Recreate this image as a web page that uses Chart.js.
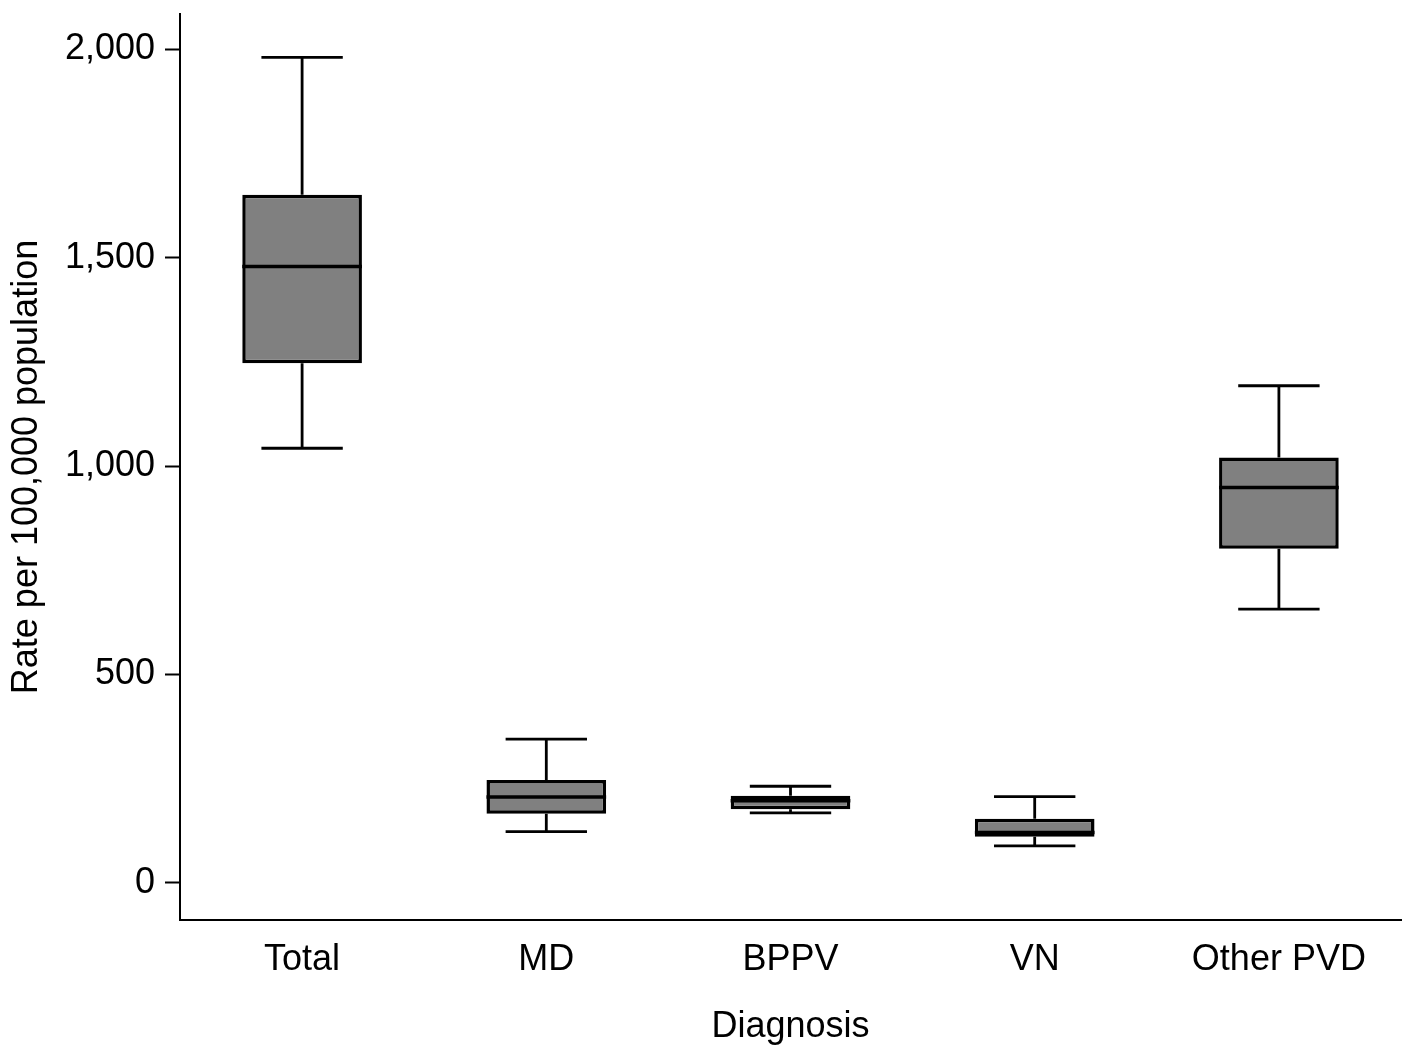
<!DOCTYPE html>
<html>
<head>
<meta charset="utf-8">
<script src="https://cdn.jsdelivr.net/npm/chart.js@4.4.1/dist/chart.umd.min.js"></script>
<style>
  html, body { margin: 0; padding: 0; background: #fff; }
  canvas { display: block; }
</style>
</head>
<body>
<canvas id="boxChart" width="1418" height="1057"></canvas>
<script>
// box plot values (rate per 100,000)
const categories = ['Total', 'MD', 'BPPV', 'VN', 'Other PVD'];
const lowerWhisker = [1043, 123, 168, 89, 657];
const q1 = [1247, 166, 177, 111, 802];
const median = [1479, 206, 197, 121, 949];
const q3 = [1651, 247, 209, 154, 1021];
const upperWhisker = [1981, 345, 232, 207, 1193];
const yTicks = [0, 500, 1000, 1500, 2000];

Chart.defaults.font.family = "'Liberation Sans', Arial, sans-serif";
Chart.defaults.font.size = 36;
Chart.defaults.color = '#000';

// whiskers + median line, drawn on top of the floating bars
const boxExtras = {
    id: 'boxExtras',
    afterDatasetsDraw(chart) {
        const ctx = chart.ctx;
        const x = chart.scales.x;
        const y = chart.scales.y;
        const bars = chart.getDatasetMeta(0).data;
        ctx.save();
        ctx.strokeStyle = '#000';
        ctx.lineCap = 'butt';
        categories.forEach((c, i) => {
            const cx = x.getPixelForValue(i);
            const half = bars[i].width / 2;
            const cap = half * 0.68;
            // median
            ctx.lineWidth = 3.5;
            ctx.beginPath();
            ctx.moveTo(cx - half, y.getPixelForValue(median[i]));
            ctx.lineTo(cx + half, y.getPixelForValue(median[i]));
            ctx.stroke();
            // whiskers
            ctx.lineWidth = 2.8;
            ctx.beginPath();
            ctx.moveTo(cx, y.getPixelForValue(q3[i]));
            ctx.lineTo(cx, y.getPixelForValue(upperWhisker[i]));
            ctx.moveTo(cx - cap, y.getPixelForValue(upperWhisker[i]));
            ctx.lineTo(cx + cap, y.getPixelForValue(upperWhisker[i]));
            ctx.moveTo(cx, y.getPixelForValue(q1[i]));
            ctx.lineTo(cx, y.getPixelForValue(lowerWhisker[i]));
            ctx.moveTo(cx - cap, y.getPixelForValue(lowerWhisker[i]));
            ctx.lineTo(cx + cap, y.getPixelForValue(lowerWhisker[i]));
            ctx.stroke();
        });
        ctx.restore();
    }
};

const canvas = document.getElementById('boxChart').getContext('2d');

new Chart(canvas, {
    type: 'bar',
    data: {
        labels: categories,
        datasets: [{
            data: categories.map((c, i) => [q1[i], q3[i]]),
            backgroundColor: '#808080',
            borderColor: '#000',
            borderWidth: 3.5,
            borderSkipped: false,
            barPercentage: 0.49,
            categoryPercentage: 1
        }]
    },
    options: {
        responsive: false,
        animation: false,
        devicePixelRatio: 1,
        layout: { padding: { top: 14, right: 17, left: 0, bottom: 0 } },
        plugins: {
            legend: { display: false },
            tooltip: { enabled: false }
        },
        scales: {
            x: {
                grid: { display: true, drawOnChartArea: false, drawTicks: false },
                border: { display: true, color: '#000', width: 2 },
                ticks: { padding: 18 },
                title: {
                    display: true,
                    text: 'Diagnosis',
                    padding: { top: 0, bottom: 8 }
                },
                afterFit(scale) {
                    scale.height = 137;
                    scale.paddingLeft = 0;
                    scale.paddingRight = 0;
                }
            },
            y: {
                min: -89,
                max: 2085,
                grid: {
                    display: true,
                    drawOnChartArea: false,
                    drawTicks: true,
                    tickLength: 15,
                    tickColor: '#000',
                    tickWidth: 2
                },
                border: { display: true, color: '#000', width: 2 },
                afterBuildTicks(scale) {
                    scale.ticks = yTicks.map(v => ({ value: v }));
                },
                ticks: {
                    padding: 10,
                    callback: v => v.toLocaleString('en-US')
                },
                title: {
                    display: true,
                    text: 'Rate per 100,000 population',
                    padding: { top: 5, bottom: 0 }
                },
                afterFit(scale) {
                    scale.width = 180;
                    scale.paddingTop = 0;
                    scale.paddingBottom = 0;
                }
            }
        }
    },
    plugins: [boxExtras]
});
</script>
</body>
</html>
